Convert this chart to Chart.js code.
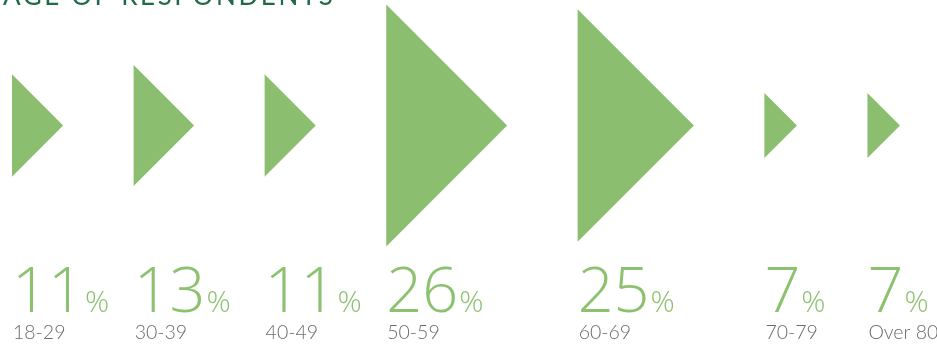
<!DOCTYPE html>
<html>
<head>
<meta charset="utf-8">
<script src="https://cdn.jsdelivr.net/npm/chart.js@4/dist/chart.umd.min.js"></script>
<style>
  html, body { margin: 0; padding: 0; background: #ffffff; }
  #wrap { width: 937px; height: 347px; position: relative; }
</style>
</head>
<body>
<div id="wrap"><canvas id="c"></canvas></div>
<script>
// ---- data ----
const title = 'AGE OF RESPONDENTS';
const categories = ['18-29', '30-39', '40-49', '50-59', '60-69', '70-79', 'Over 80'];
const percentages = [11, 13, 11, 26, 25, 7, 7];

// ---- layout (in value units; 1 unit of % = same pixel length on both axes) ----
const PX_PER_UNIT = 9.3;
const W = 937, H = 347;
const startX = 12 / PX_PER_UNIT;   // first column start
const gapX = 70.5 / PX_PER_UNIT;   // gap between triangle tip and next column
const centerY = 125.5;

// column start positions follow from the triangle widths (value / 2)
const lefts = [];
percentages.reduce((acc, v, i) => { lefts.push(acc); return acc + v / 2 + gapX; }, startX);

const green = '#8bbf6f';
const datasets = percentages.map((v, i) => ({
  label: categories[i],
  data: [
    { x: lefts[i], y: v / 2 },
    { x: lefts[i] + v / 2, y: 0 },
    { x: lefts[i], y: -v / 2 }
  ],
  showLine: true,
  fill: 'shape',
  backgroundColor: green,
  borderColor: green,
  borderWidth: 0,
  pointRadius: 0,
  tension: 0
}));

const textPlugin = {
  id: 'texts',
  afterDraw(chart) {
    const ctx = chart.ctx;
    const xs = chart.scales.x;
    ctx.save();
    // title (cropped at top as in the reference)
    ctx.fillStyle = '#1f6b45';
    ctx.font = '400 26px Lato, "Open Sans", sans-serif';
    ctx.textAlign = 'left';
    ctx.textBaseline = 'alphabetic';
    if ('letterSpacing' in ctx) ctx.letterSpacing = '2.6px';
    ctx.fillText(title, 3, 5);
    if ('letterSpacing' in ctx) ctx.letterSpacing = '0px';

    percentages.forEach((v, i) => {
      const x = xs.getPixelForValue(lefts[i]);
      ctx.fillStyle = '#8cc16f';
      ctx.font = '300 63px "Open Sans", Lato, sans-serif';
      const num = String(v);
      ctx.fillText(num, x, 312);
      const w = ctx.measureText(num).width;
      ctx.font = '300 30px "Open Sans", Lato, sans-serif';
      ctx.fillText('%', x + w + 1, 312);
      ctx.fillStyle = '#6b6b6b';
      ctx.font = '300 19.5px Lato, "Open Sans", sans-serif';
      ctx.fillText(categories[i], x + 1, 339);
    });
    ctx.restore();
  }
};

new Chart(document.getElementById('c'), {
  type: 'scatter',
  data: { datasets },
  options: {
    responsive: true,
    maintainAspectRatio: false,
    animation: false,
    layout: { padding: 0 },
    plugins: { legend: { display: false }, tooltip: { enabled: false }, title: { display: false } },
    scales: {
      x: { type: 'linear', display: false, min: 0, max: W / PX_PER_UNIT },
      y: { type: 'linear', display: false,
           max: centerY / PX_PER_UNIT, min: (centerY - H) / PX_PER_UNIT }
    }
  },
  plugins: [textPlugin]
});
</script>
</body>
</html>
